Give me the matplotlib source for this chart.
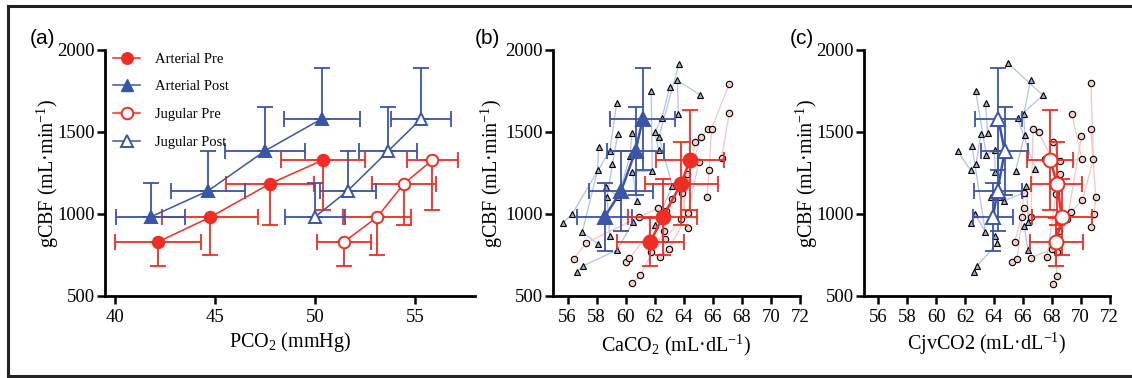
import matplotlib
matplotlib.use("Agg")
import matplotlib.pyplot as plt
from matplotlib.lines import Line2D

# ---------------- data ----------------
# group means (4 CO2 stages)
cbf_pre = [830, 980, 1185, 1329]
cbf_pre_sd = [147, 232, 254, 307]
cbf_post = [982, 1141, 1385, 1580]
cbf_post_sd = [205, 244, 268, 313]

pco2_art_pre = [42.15, 44.75, 47.75, 50.40]
pco2_art_pre_sd = [2.15, 2.40, 2.20, 2.10]
pco2_art_post = [41.78, 44.65, 47.50, 50.33]
pco2_art_post_sd = [1.74, 1.85, 2.00, 1.90]
pco2_jug_pre = [51.45, 53.10, 54.45, 55.87]
pco2_jug_pre_sd = [1.35, 1.70, 1.60, 1.27]
pco2_jug_post = [50.00, 51.63, 53.67, 55.30]
pco2_jug_post_sd = [1.50, 1.40, 1.45, 1.50]

caco2_pre = [61.71, 62.54, 63.83, 64.41]
caco2_pre_sd = [2.28, 2.38, 2.53, 2.33]
caco2_post = [58.56, 59.69, 60.68, 61.18]
caco2_post_sd = [1.90, 2.20, 1.96, 2.25]

cjv_pre = [68.31, 68.70, 68.36, 67.90]
cjv_pre_sd = [1.84, 2.10, 1.77, 1.59]
cjv_post = [63.93, 64.25, 64.74, 64.30]
cjv_post_sd = [1.38, 1.66, 1.64, 1.63]

# individual subjects, panel (b)
b_post_x = [[56.67, 57.04, 59.41, 60.52], [55.68, 56.30, 58.90, 59.39],
            [58.12, 57.01, 58.07, 58.14], [58.90, 58.72, 59.09, 59.46],
            [58.63, 59.48, 60.31, 60.42], [60.77, 60.47, 61.83, 61.76],
            [62.04, 63.21, 62.29, 63.67], [62.27, 62.01, 62.50, 63.03],
            [63.63, 63.56, 65.15]]
b_post_y = [[646, 683, 780, 953], [945, 998, 1384, 1677],
            [817, 888, 1268, 1411], [866, 1106, 1303, 1488],
            [1163, 1106, 1356, 1494], [1079, 1256, 1262, 1752],
            [931, 1171, 1471, 1915], [1390, 1502, 1583, 1776],
            [1610, 1815, 1724]]
b_pre_x = [[56.42, 57.29, 60.93, 62.24], [60.42, 61.00, 62.63, 63.19],
           [60.03, 60.26, 62.80, 64.25], [61.76, 62.68, 63.84, 64.80],
           [62.34, 62.98, 64.29, 65.03], [64.29, 63.90, 65.22, 65.68],
           [65.60, 65.75, 65.91, 67.13], [66.60, 67.13]]
b_pre_y = [[724, 825, 982, 1035], [578, 626, 896, 1090],
           [706, 730, 1018, 1242], [766, 846, 971, 1441],
           [738, 787, 1004, 1317], [916, 1126, 1471, 1518],
           [1102, 1266, 1518, 1795], [1340, 1614]]

# individual subjects, panel (c)
c_post_x = [[62.62, 62.80, 64.23, 64.09], [62.38, 62.69, 63.40, 62.48],
            [66.35, 66.09, 66.39, 66.24], [63.81, 64.32, 64.69, 66.07],
            [61.48, 62.38, 62.76, 63.10], [64.09, 64.04, 63.47, 62.73],
            [65.50, 66.12, 66.07, 66.53], [66.86, 65.63, 67.39, 64.97],
            [63.56, 63.42]]
c_post_y = [[645, 681, 821, 866], [943, 1000, 892, 1415],
            [780, 927, 953, 1173], [1106, 1102, 1079, 1130],
            [1382, 1266, 1307, 1488], [1254, 1390, 1360, 1752],
            [1264, 1480, 1610, 1817], [1274, 1585, 1724, 1919],
            [1494, 1677]]
c_pre_x = [[68.12, 68.33, 68.35, 68.49], [65.25, 65.59, 65.96, 66.05],
           [65.43, 66.08, 66.56, 66.70], [66.53, 68.00, 69.09, 70.06],
           [67.68, 68.29, 68.56, 67.09], [70.71, 70.94, 71.05, 70.71],
           [69.35, 70.13, 70.89, 70.71], [68.12, 68.54, 70.09, 69.39],
           [67.50]]
c_pre_y = [[575, 624, 766, 896], [706, 724, 984, 1130],
           [827, 1039, 980, 1518], [732, 787, 970, 1474],
           [740, 1122, 1244, 1498], [919, 1002, 1106, 1518],
           [1014, 1085, 1337, 1797], [1437, 1321, 1334, 1610],
           [1334]]

legend_labels = ["Arterial Pre", "Arterial Post", "Jugular Pre", "Jugular Post"]

# ---------------- style ----------------
RED = "#ee2d24"
BLUE = "#3a55a6"
LRED = "#f7c4c4"
LBLUE = "#b3c2e6"
PINK_FACE = "#f4cfcf"
TRI_FACE = "#a4abc4"
SERIF = ["Liberation Serif", "DejaVu Serif"]
SANS = ["Liberation Sans", "DejaVu Sans"]

plt.rcParams["font.family"] = SERIF
plt.rcParams["mathtext.fontset"] = "custom"
plt.rcParams["mathtext.rm"] = "Liberation Serif"
plt.rcParams["mathtext.it"] = "Liberation Serif:italic"
plt.rcParams["mathtext.bf"] = "Liberation Serif:bold"
plt.rcParams["mathtext.default"] = "regular"

W, H = 1132, 378
fig = plt.figure(figsize=(W / 100, H / 100), dpi=100)


def px_axes(left, right, top, bottom):
    return fig.add_axes([left / W, 1 - bottom / H, (right - left) / W, (bottom - top) / H])


def style_axes(ax, xlim, xticks, xlabel, ylab_x, xlab_y):
    ax.set_xlim(*xlim)
    ax.set_ylim(500, 2000)
    ax.set_xticks(xticks)
    ax.set_yticks([500, 1000, 1500, 2000])
    for s in ("top", "right"):
        ax.spines[s].set_visible(False)
    for s in ("left", "bottom"):
        ax.spines[s].set_linewidth(2.0)
        ax.spines[s].set_color("black")
    ax.tick_params(axis="both", direction="out", length=6, width=1.8,
                   labelsize=13.5, colors="black")
    ax.tick_params(axis="y", pad=1.5)
    ax.tick_params(axis="x", pad=3)
    for lbl in ax.get_xticklabels() + ax.get_yticklabels():
        lbl.set_family(SERIF)
    ax.set_xlabel(xlabel, fontsize=14.5)
    ax.set_ylabel("gCBF (mL·min$^{-1}$)", fontsize=14.5)
    ax.xaxis.set_label_coords(0.5, xlab_y)
    ax.yaxis.set_label_coords(ylab_x, 0.5)
    ax.patch.set_alpha(0)


def mean_series(ax, x, xsd, y, ysd_lo, ysd_hi, color, marker, filled, ms, lw):
    ax.errorbar(x, y, xerr=xsd, fmt="none", ecolor=color, elinewidth=1.3,
                capsize=5.5, capthick=1.3, zorder=3)
    ax.errorbar(x, y, yerr=[ysd_lo, ysd_hi], fmt="none", ecolor=color,
                elinewidth=1.3, capsize=5.5, capthick=1.3, zorder=3)
    ax.plot(x, y, color=color, lw=lw, zorder=4)
    ax.plot(x, y, ls="none", marker=marker, ms=ms, mec=color, mew=1.4,
            mfc=color if filled else "white", zorder=5)


def individuals(ax, xs_list, ys_list, marker, lcolor, face):
    for xs, ys in zip(xs_list, ys_list):
        ax.plot(xs, ys, color=lcolor, lw=0.9, zorder=1)
    for xs, ys in zip(xs_list, ys_list):
        ax.plot(xs, ys, ls="none", marker=marker, ms=4.6, mfc=face, mec="black",
                mew=0.8, zorder=2)


zeros = [0, 0, 0, 0]

# ---------------- panel (a) ----------------
axa = px_axes(105, 475, 50, 296)
style_axes(axa, (39.5, 58), [40, 45, 50, 55], "PCO$_2$ (mmHg)", -0.12, -0.14)
mean_series(axa, pco2_art_pre, pco2_art_pre_sd, cbf_pre, cbf_pre_sd, zeros, RED, "o", True, 8.3, 1.1)
mean_series(axa, pco2_art_post, pco2_art_post_sd, cbf_post, zeros, cbf_post_sd, BLUE, "^", True, 8.3, 1.1)
mean_series(axa, pco2_jug_pre, pco2_jug_pre_sd, cbf_pre, cbf_pre_sd, zeros, RED, "o", False, 8.3, 1.1)
mean_series(axa, pco2_jug_post, pco2_jug_post_sd, cbf_post, zeros, cbf_post_sd, BLUE, "^", False, 8.3, 1.1)

handles = [
    Line2D([], [], color=RED, lw=1.1, marker="o", ms=8.3, mfc=RED, mec=RED),
    Line2D([], [], color=BLUE, lw=1.1, marker="^", ms=8.3, mfc=BLUE, mec=BLUE),
    Line2D([], [], color=RED, lw=1.1, marker="o", ms=8.3, mfc="white", mec=RED, mew=1.4),
    Line2D([], [], color=BLUE, lw=1.1, marker="^", ms=8.3, mfc="white", mec=BLUE, mew=1.4),
]
axa.legend(handles, legend_labels, loc="upper left", bbox_to_anchor=(0.022, 0.99),
           frameon=False, fontsize=10.5, handlelength=1.85, handletextpad=1.03,
           labelspacing=1.0, borderaxespad=0, borderpad=0)

# ---------------- panel (b) ----------------
axb = px_axes(553, 800, 50, 296)
style_axes(axb, (55, 72), list(range(56, 73, 2)), "CaCO$_2$ (mL·dL$^{-1}$)", -0.195, -0.15)
individuals(axb, b_post_x, b_post_y, "^", LBLUE, TRI_FACE)
individuals(axb, b_pre_x, b_pre_y, "o", LRED, PINK_FACE)
mean_series(axb, caco2_post, caco2_post_sd, cbf_post, cbf_post_sd, cbf_post_sd, BLUE, "^", True, 10, 1.8)
mean_series(axb, caco2_pre, caco2_pre_sd, cbf_pre, cbf_pre_sd, cbf_pre_sd, RED, "o", True, 10, 1.8)

# ---------------- panel (c) ----------------
axc = px_axes(864, 1109.5, 50, 296)
style_axes(axc, (55, 72), list(range(56, 73, 2)), "CjvCO2 (mL·dL$^{-1}$)", -0.18, -0.14)
individuals(axc, c_post_x, c_post_y, "^", LBLUE, TRI_FACE)
individuals(axc, c_pre_x, c_pre_y, "o", LRED, PINK_FACE)
mean_series(axc, cjv_post, cjv_post_sd, cbf_post, cbf_post_sd, cbf_post_sd, BLUE, "^", False, 10, 1.8)
mean_series(axc, cjv_pre, cjv_pre_sd, cbf_pre, cbf_pre_sd, cbf_pre_sd, RED, "o", False, 10, 1.8)

# ---------------- panel letters & frame ----------------
for lx, txt in ((30, "(a)"), (475, "(b)"), (790, "(c)")):
    fig.text(lx / W, 1 - 38 / H, txt, family=SANS, fontsize=15, va="center", ha="left")

frame_kw = dict(color="#222222", lw=2.2, transform=fig.transFigure)
fig.add_artist(Line2D([8 / W, 1.01], [1 - 6 / H, 1 - 6 / H], **frame_kw))
fig.add_artist(Line2D([8 / W, 1.01], [1 - 376 / H, 1 - 376 / H], **frame_kw))
fig.add_artist(Line2D([8 / W, 8 / W], [1 - 6 / H, 1 - 376 / H], **frame_kw))

fig.savefig("out.png", dpi=100, facecolor="white")
